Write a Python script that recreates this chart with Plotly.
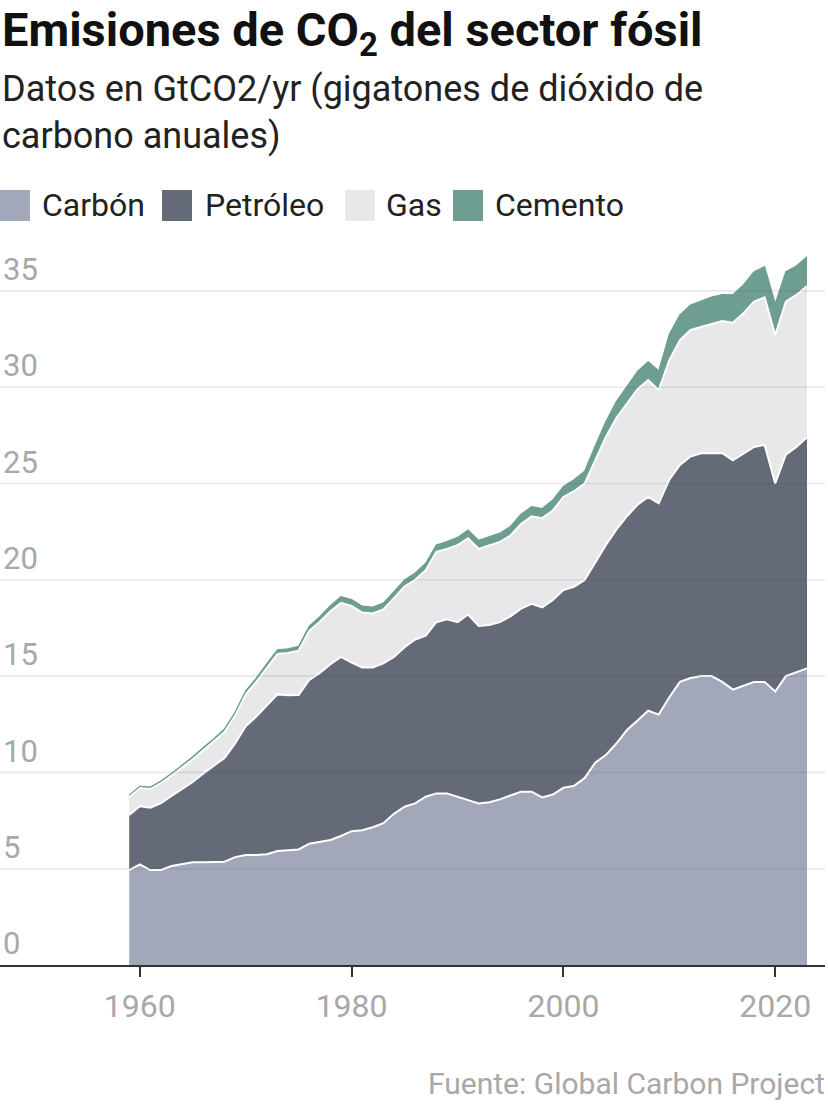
import plotly.graph_objects as go

# ---------------- data (GtCO2/yr) ----------------
years = list(range(1959, 2024))

coal = [4.93, 5.22, 4.93, 4.93, 5.14, 5.24, 5.33, 5.33, 5.33, 5.36,
        5.6, 5.71, 5.71, 5.75, 5.92, 5.95, 6.0, 6.3, 6.4, 6.49,
        6.7, 6.95, 7.0, 7.15, 7.36, 7.85, 8.22, 8.39, 8.74, 8.91,
        8.91, 8.74, 8.6, 8.39, 8.45, 8.6, 8.8, 9.0, 9.0, 8.7,
        8.85, 9.2, 9.3, 9.7, 10.5, 10.9, 11.5, 12.2, 12.7, 13.2,
        13.0, 13.9, 14.7, 14.9, 15.0, 15.0, 14.7, 14.3, 14.5, 14.7,
        14.7, 14.2, 15.0, 15.2, 15.4]

oil = [2.86, 3.02, 3.24, 3.48, 3.64, 3.88, 4.17, 4.62, 5.02, 5.39,
       5.9, 6.69, 7.19, 7.75, 8.13, 8.05, 8.02, 8.5, 8.77, 9.13,
       9.3, 8.75, 8.45, 8.3, 8.3, 8.15, 8.28, 8.51, 8.36, 8.89,
       9.04, 9.06, 9.6, 9.21, 9.2, 9.2, 9.3, 9.5, 9.75, 9.87,
       10.1, 10.27, 10.34, 10.29, 10.4, 10.9, 11.1, 11.1, 11.2, 11.1,
       10.97, 11.3, 11.26, 11.5, 11.57, 11.57, 11.87, 11.9, 12.07, 12.2,
       12.3, 10.8, 11.5, 11.7, 12.0]

gas = [0.95, 0.95, 0.98, 1.04, 1.06, 1.14, 1.18, 1.2, 1.25, 1.35,
       1.45, 1.65, 1.8, 1.95, 2.1, 2.2, 2.3, 2.55, 2.65, 2.75,
       2.8, 2.95, 2.85, 2.8, 2.8, 3.05, 3.15, 3.1, 3.4, 3.65,
       3.65, 4.0, 3.95, 4.0, 4.15, 4.17, 4.2, 4.4, 4.55, 4.63,
       4.65, 4.83, 4.96, 5.0, 5.3, 5.6, 5.8, 5.86, 6.0, 6.07,
       5.88, 6.2, 6.49, 6.57, 6.57, 6.71, 6.87, 7.15, 7.27, 7.54,
       7.67, 7.7, 7.94, 7.89, 7.85]

cement = [0.08, 0.09, 0.09, 0.1, 0.11, 0.12, 0.13, 0.14, 0.15, 0.16,
          0.17, 0.18, 0.19, 0.2, 0.22, 0.22, 0.23, 0.25, 0.27, 0.29,
          0.32, 0.33, 0.33, 0.33, 0.33, 0.34, 0.34, 0.35, 0.36, 0.36,
          0.38, 0.4, 0.43, 0.45, 0.45, 0.45, 0.47, 0.5, 0.5, 0.5,
          0.55, 0.55, 0.6, 0.65, 0.75, 0.8, 0.85, 0.88, 0.92, 0.95,
          1.0, 1.35, 1.3, 1.3, 1.35, 1.4, 1.37, 1.45, 1.47, 1.56,
          1.59, 1.64, 1.56, 1.5, 1.52]

series_names = ["Carbón", "Petróleo", "Gas", "Cemento"]
series_colors = ["#a2a8b9", "#656a79", "#e8e8ea", "#6e9e91"]
y_ticks = [0, 5, 10, 15, 20, 25, 30, 35]
x_ticks = [1960, 1980, 2000, 2020]

# ---------------- layout geometry ----------------
W, H = 828, 1104
ML, MR, MT, MB = 0, 3, 240, 139
PW, PH = W - ML - MR, H - MT - MB
YMAX = PH / 19.26


def px(x):
    return (x - ML) / PW


def py(y):
    return (H - MB - y) / PH


FONT = "Roboto, Arial, sans-serif"

fig = go.Figure()
for i, (name, vals, col) in enumerate(zip(series_names, [coal, oil, gas, cement], series_colors)):
    line_col = col if name == "Cemento" else "white"
    line_w = 1.2 if name == "Cemento" else 2
    fig.add_trace(go.Scatter(
        x=years, y=vals, name=name, stackgroup="one", mode="lines",
        line=dict(color=line_col, width=line_w), fillcolor=col,
        hoverinfo="x+y+name", showlegend=False))

shapes = []
# faint gridlines drawn over the areas
for v in y_ticks[1:]:
    shapes.append(dict(type="line", xref="paper", x0=0, x1=1, yref="y", y0=v, y1=v,
                       line=dict(color="rgba(60,60,90,0.11)", width=1.6), layer="above"))

annotations = []
annotations.append(dict(text="<b>Emisiones de CO<sub>2</sub> del sector fósil</b>",
                        x=px(0), y=py(33), xref="paper", yref="paper",
                        xanchor="left", yanchor="middle", showarrow=False,
                        font=dict(family=FONT, size=47, color="#111111")))
annotations.append(dict(text="Datos en GtCO2/yr (gigatones de dióxido de",
                        x=px(0), y=py(89), xref="paper", yref="paper",
                        xanchor="left", yanchor="middle", showarrow=False,
                        font=dict(family=FONT, size=36, color="#222222")))
annotations.append(dict(text="carbono anuales)",
                        x=px(0), y=py(136), xref="paper", yref="paper",
                        xanchor="left", yanchor="middle", showarrow=False,
                        font=dict(family=FONT, size=36, color="#222222")))

# legend
legend_sw = [0, 162, 345, 453]
legend_tx = [40, 203, 384, 493]
for name, col, sx, tx in zip(series_names, series_colors, legend_sw, legend_tx):
    shapes.append(dict(type="rect", xref="paper", yref="paper",
                       x0=px(sx), x1=px(sx + 30), y0=py(221), y1=py(190),
                       fillcolor=col, line=dict(width=0), layer="above"))
    annotations.append(dict(text=name, x=px(tx), y=py(205), xref="paper", yref="paper",
                            xanchor="left", yanchor="middle", showarrow=False,
                            font=dict(family=FONT, size=32, color="#222222")))

annotations.append(dict(text="Fuente: Global Carbon Project",
                        x=px(827), y=py(1083), xref="paper", yref="paper",
                        xanchor="right", yanchor="middle", showarrow=False,
                        font=dict(family=FONT, size=30, color="#a8a8a8")))

fig.update_layout(
    width=W, height=H,
    margin=dict(l=ML, r=MR, t=MT, b=MB),
    paper_bgcolor="white", plot_bgcolor="white",
    showlegend=False,
    shapes=shapes, annotations=annotations,
    xaxis=dict(range=[1946.8, 2024.7], tickvals=x_ticks, showgrid=False,
               showline=True, linecolor="#333333", linewidth=2,
               ticks="outside", ticklen=10, tickwidth=2, tickcolor="#333333",
               tickfont=dict(family=FONT, size=32, color="#a8a8a8"),
               ticklabelstandoff=2, zeroline=False, fixedrange=True),
    yaxis=dict(range=[0, YMAX], tickvals=y_ticks, showgrid=False, zeroline=False,
               showline=False, ticks="", ticklabelposition="inside top",
               tickfont=dict(family=FONT, size=31, color="#a8a8a8"),
               fixedrange=True),
)

fig.write_html("out.html", config={"displayModeBar": False},
               post_script="document.body.style.margin='0';document.body.style.padding='0';")
